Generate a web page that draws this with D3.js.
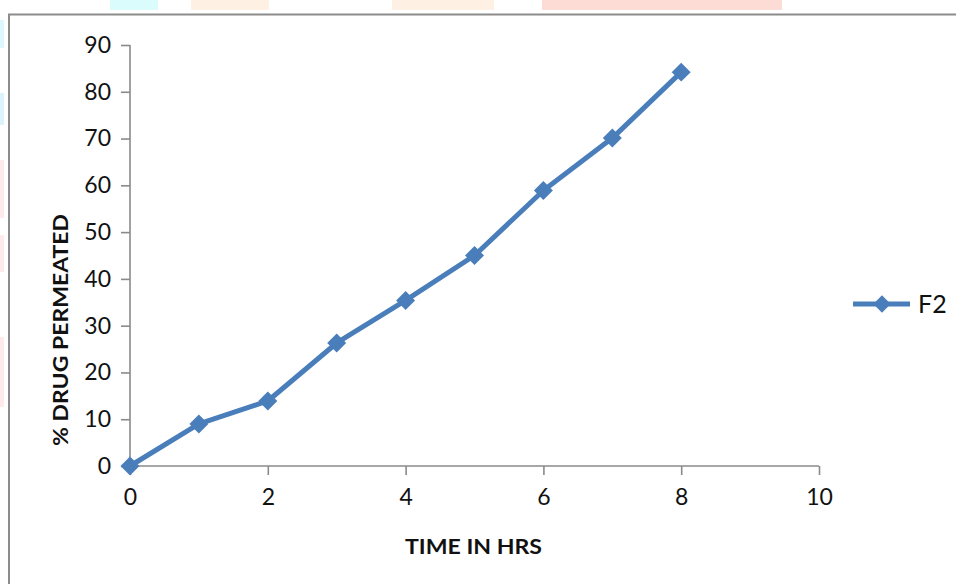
<!DOCTYPE html>
<html><head><meta charset="utf-8">
<script src="https://cdn.jsdelivr.net/npm/d3@7"></script>
<style>body{margin:0;background:#fff}svg{display:block}</style>
</head><body>
<svg id="c" width="956" height="584"></svg>
<script>
const times = [0,1,2,3,4,5,6,7,8];
const permeated = [0,9.0,13.9,26.3,35.4,45.0,58.9,70.1,84.2];
const seriesName = "F2";
const xTicks = [0,2,4,6,8,10];
const yTicks = [0,10,20,30,40,50,60,70,80,90];
const xTitle = "TIME IN HRS";
const yTitle = "% DRUG PERMEATED";

const svg = d3.select("#c");
const blue = "#4A7EBB";
const axisCol = "#8a8a8a";
const font = "Lato, 'Open Sans', sans-serif";

// faint watermark blobs
const blobs = [
  [110,0,48,10,"#dafcfd"],[191,0,78,10,"#fef1e3"],[392,0,102,10,"#fef1e3"],[542,0,240,10,"#fedcd6"],
  [0,20,4,28,"#dcf8fd"],[0,93,4,32,"#dcf2fd"],[0,160,4,58,"#feeaea"],[0,235,4,37,"#feeaea"],[0,337,4,70,"#feeaea"]
];
svg.selectAll("rect.blob").data(blobs).join("rect").attr("class","blob")
  .attr("x",d=>d[0]).attr("y",d=>d[1]).attr("width",d=>d[2]).attr("height",d=>d[3]).attr("fill",d=>d[4]);

// outer border
svg.append("path").attr("d","M9,584V14.5H956").attr("fill","none").attr("stroke","#8c8c8c").attr("stroke-width",2);

const x = d3.scaleLinear().domain([0,10]).range([130,819]);
const y = d3.scaleLinear().domain([0,90]).range([466,45]);

const gx = svg.append("g").attr("transform","translate(0,466)")
  .call(d3.axisBottom(x).tickValues(xTicks).tickSize(9).tickPadding(14).tickFormat(d3.format("d")));
const gy = svg.append("g").attr("transform","translate(130,0)")
  .call(d3.axisLeft(y).tickValues(yTicks).tickSize(9).tickPadding(10).tickFormat(d3.format("d")));
[gx,gy].forEach(g=>{
  g.select(".domain").attr("stroke",axisCol).attr("stroke-width",1.6);
  g.selectAll(".tick line").attr("stroke",axisCol).attr("stroke-width",1.6);
  g.selectAll(".tick text").attr("fill","#111").style("font-family",font).style("font-size","23px");
});
gx.select(".domain").attr("d","M130,0H819");
gy.select(".domain").attr("d","M0,45V466");

// axis titles
svg.append("text").attr("x",x(5)-1).attr("y",554).attr("text-anchor","middle")
  .style("font-family",font).style("font-weight","bold").style("font-size","21px").attr("fill","#111")
  .attr("textLength",137).attr("lengthAdjust","spacingAndGlyphs").text(xTitle);
svg.append("text").attr("transform","translate(68,330) rotate(-90)").attr("text-anchor","middle")
  .style("font-family",font).style("font-weight","bold").style("font-size","21px").attr("fill","#111")
  .attr("textLength",232).attr("lengthAdjust","spacingAndGlyphs").text(yTitle);

const pts = times.map((t,i)=>[t,permeated[i]]);
svg.append("path").datum(pts)
  .attr("d",d3.line().x(d=>x(d[0])).y(d=>y(d[1])))
  .attr("fill","none").attr("stroke",blue).attr("stroke-width",5).attr("stroke-linejoin","round");
const sq = d3.symbol().type(d3.symbolSquare).size(180);
svg.selectAll("path.m").data(pts).join("path").attr("class","m")
  .attr("d",sq).attr("fill",blue)
  .attr("transform",d=>`translate(${x(d[0])},${y(d[1])}) rotate(45)`);

// legend
const lg = svg.append("g").attr("transform","translate(853,304)");
lg.append("line").attr("x1",0).attr("x2",57).attr("stroke",blue).attr("stroke-width",5);
lg.append("path").attr("d",d3.symbol().type(d3.symbolSquare).size(150)).attr("fill",blue)
  .attr("transform","translate(29,0) rotate(45)");
lg.append("text").attr("x",65).attr("y",9).style("font-family",font).style("font-size","25px")
  .attr("fill","#111").text(seriesName);
</script>
</body></html>
